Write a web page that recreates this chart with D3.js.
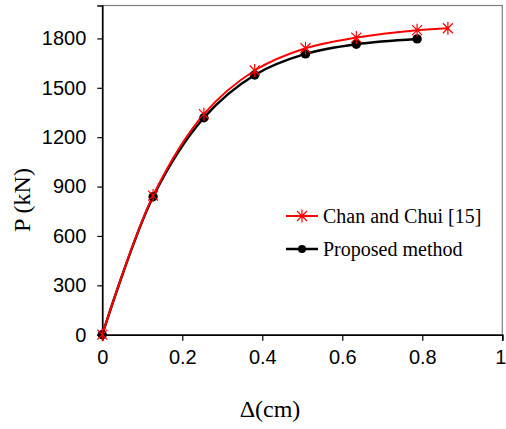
<!DOCTYPE html>
<html><head><meta charset="utf-8">
<script src="https://cdn.jsdelivr.net/npm/d3@7"></script>
<style>body{margin:0;background:#fff}svg{display:block}</style>
</head><body>
<svg id="c" width="506" height="429"></svg>
<script>
const chanX = [0, 0.127, 0.254, 0.381, 0.508, 0.635, 0.787, 0.864];
const chanY = [0, 845, 1340, 1605, 1740, 1805, 1850, 1862];
const propX = [0, 0.127, 0.254, 0.381, 0.508, 0.635, 0.787];
const propY = [0, 838, 1318, 1578, 1706, 1765, 1797];
const xTicks = [0, 0.2, 0.4, 0.6, 0.8, 1];
const yTicks = [0, 300, 600, 900, 1200, 1500, 1800];
const seriesNames = ["Chan and Chui [15]", "Proposed method"];

const svg = d3.select("#c");
const L = 102.3, R = 502.3, T = 5.5, B = 334.7;
const x = d3.scaleLinear().domain([0, 1]).range([L, R]);
const y = d3.scaleLinear().domain([0, 2000]).range([B, T]);

// frame
svg.append("rect").attr("x", L).attr("y", T).attr("width", R - L).attr("height", B - T)
  .attr("fill", "none").attr("stroke", "#7f7f7f").attr("stroke-width", 1.2);

const tickFont = "Liberation Sans, Arial, sans-serif";
const gx = svg.append("g").attr("transform", `translate(0,${B})`)
  .call(d3.axisBottom(x).tickValues(xTicks).tickSize(6).tickPadding(9).tickFormat(d3.format("")));
const gy = svg.append("g").attr("transform", `translate(${L},0)`)
  .call(d3.axisLeft(y).tickValues(yTicks).tickSize(5).tickPadding(11).tickFormat(d3.format("d")));
[gx, gy].forEach(g => {
  g.select(".domain").attr("stroke", "#000").attr("stroke-width", 1.6);
  g.selectAll(".tick line").attr("stroke", "#000").attr("stroke-width", 1.2);
  g.selectAll("text").attr("font-family", tickFont).attr("font-size", 20).attr("fill", "#000");
});
gx.selectAll(".tick text").filter(d => d === 1).attr("dx", -2);

const line = d3.line().x(d => x(d[0])).y(d => y(d[1])).curve(d3.curveCatmullRom.alpha(0.5));
const chan = chanX.map((v, i) => [v, chanY[i]]);
const prop = propX.map((v, i) => [v, propY[i]]);

function star(g, cx, cy, s, color) {
  g.append("path").attr("fill", "none").attr("stroke", color).attr("stroke-width", 1.2)
    .attr("d", `M${cx - s},${cy - s}L${cx + s},${cy + s}M${cx - s},${cy + s}L${cx + s},${cy - s}M${cx},${cy - s * 1.3}L${cx},${cy + s * 1.3}`);
}

svg.append("path").datum(prop).attr("d", line).attr("fill", "none").attr("stroke", "#000").attr("stroke-width", 2.5);
svg.append("path").datum(chan).attr("d", line).attr("fill", "none").attr("stroke", "#ff0000").attr("stroke-width", 2);

const gm = svg.append("g");
prop.forEach(d => gm.append("circle").attr("cx", x(d[0])).attr("cy", y(d[1])).attr("r", 4.7).attr("fill", "#000"));
chan.forEach(d => star(gm, x(d[0]), y(d[1]), 5, "#ff0000"));

// legend
const lg = svg.append("g");
const ly = [216, 249];
lg.append("line").attr("x1", 286).attr("x2", 318).attr("y1", ly[0]).attr("y2", ly[0]).attr("stroke", "#ff0000").attr("stroke-width", 2);
star(lg, 302, ly[0], 5, "#ff0000");
lg.append("line").attr("x1", 286).attr("x2", 318).attr("y1", ly[1]).attr("y2", ly[1]).attr("stroke", "#000").attr("stroke-width", 2.5);
lg.append("circle").attr("cx", 302).attr("cy", ly[1]).attr("r", 4).attr("fill", "#000");
seriesNames.forEach((n, i) => lg.append("text").attr("x", 323).attr("y", ly[i] + 7)
  .attr("font-family", "Liberation Serif, Times New Roman, serif").attr("font-size", 20).text(n));

// axis titles
svg.append("text").attr("x", 270).attr("y", 417).attr("text-anchor", "middle")
  .attr("font-family", "Liberation Serif, Times New Roman, serif").attr("font-size", 24).text("Δ(cm)");
svg.append("text").attr("transform", "translate(30,200) rotate(-90)").attr("text-anchor", "middle")
  .attr("font-family", "Liberation Serif, Times New Roman, serif").attr("font-size", 24).text("P (kN)");
</script>
</body></html>
